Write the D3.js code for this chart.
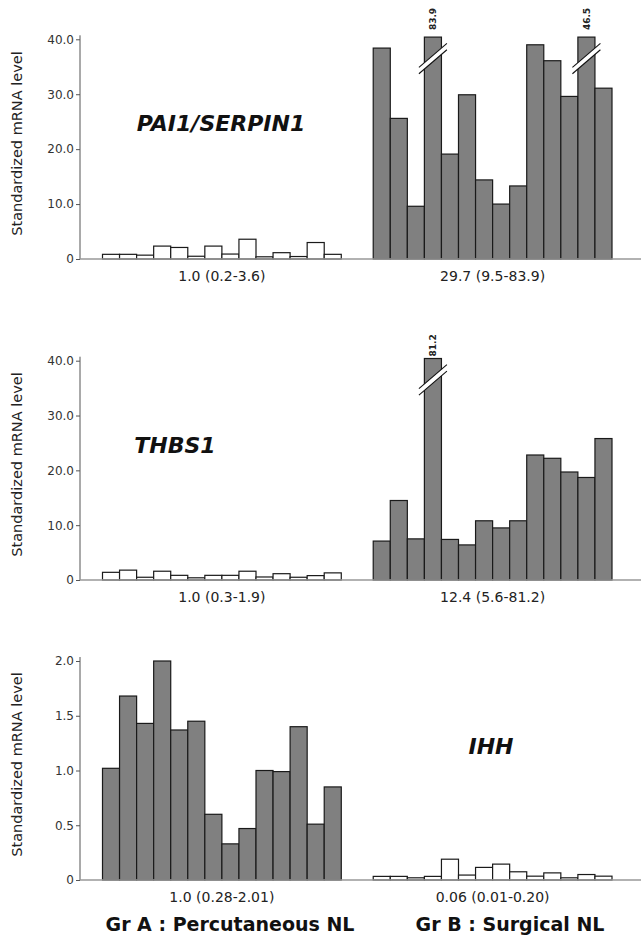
<!DOCTYPE html>
<html>
<head>
<meta charset="utf-8">
<script src="https://cdn.jsdelivr.net/npm/d3@7"></script>
<style>
  body { margin: 0; background: #fff; }
  .tick text { font-family: "DejaVu Sans", sans-serif; font-size: 12px; fill: #333; }
</style>
</head>
<body>
<div id="chart"></div>
<script>
// canvas
var width = 641, height = 941;

// samples per group and group keys
var samples = d3.range(1, 15);
var groups = ["A", "B"];
var groupTitles = ["Gr A : Percutaneous NL", "Gr B : Surgical NL"];

// PAI1/SERPIN1 values
var paiA = [0.85, 0.85, 0.7, 2.35, 2.1, 0.5, 2.35, 0.9, 3.6, 0.4, 1.15, 0.45, 3.0, 0.85];
var paiB = [38.4, 25.6, 9.6, 83.9, 19.1, 29.9, 14.4, 10.0, 13.3, 39.0, 36.1, 29.6, 46.5, 31.1];
var paiStats = ["1.0 (0.2-3.6)", "29.7 (9.5-83.9)"];

// THBS1 values
var thbsA = [1.4, 1.8, 0.5, 1.6, 0.85, 0.4, 0.85, 0.85, 1.6, 0.55, 1.15, 0.5, 0.8, 1.3];
var thbsB = [7.1, 14.5, 7.5, 81.2, 7.4, 6.4, 10.8, 9.5, 10.8, 22.8, 22.2, 19.7, 18.7, 25.8];
var thbsStats = ["1.0 (0.3-1.9)", "12.4 (5.6-81.2)"];

// IHH values
var ihhA = [1.02, 1.68, 1.43, 2.0, 1.37, 1.45, 0.60, 0.33, 0.47, 1.0, 0.99, 1.40, 0.51, 0.85];
var ihhB = [0.033, 0.033, 0.02, 0.033, 0.19, 0.045, 0.115, 0.145, 0.075, 0.035, 0.065, 0.02, 0.05, 0.035];
var ihhStats = ["1.0 (0.28-2.01)", "0.06 (0.01-0.20)"];

// tick values
var ticks40 = [0, 10, 20, 30, 40];
var ticks2 = [0, 0.5, 1, 1.5, 2];

// layout of the three panels
var panels = [
  {gene: "PAI1/SERPIN1", a: paiA, b: paiB, stats: paiStats, ticks: ticks40, max: 40,
   y0: 259, yTop: 39.3, white: "A", geneX: 221, geneY: 131, labelGap: 7},
  {gene: "THBS1", a: thbsA, b: thbsB, stats: thbsStats, ticks: ticks40, max: 40,
   y0: 580, yTop: 360.7, white: "A", geneX: 175, geneY: 453, labelGap: 2},
  {gene: "IHH", a: ihhA, b: ihhB, stats: ihhStats, ticks: ticks2, max: 2,
   y0: 880, yTop: 661, white: "B", geneX: 491, geneY: 754, labelGap: 4}
];

var axisX = 80;

var svg = d3.select("#chart")
  .append("svg")
    .attr("width", width)
    .attr("height", height);

var xGroup = d3.scaleBand()
  .domain(groups)
  .range([102.5, 612])
  .paddingInner(0.118);

var xBar = d3.scaleBand()
  .domain(samples)
  .range([0, xGroup.bandwidth()]);

var fmt = function(d) { return d === 0 ? "0" : d3.format(".1f")(d); };

panels.forEach(function(p) {
  var cap = p.max * 1.01;
  var y = d3.scaleLinear()
    .domain([0, p.max])
    .range([p.y0, p.yTop]);

  var g = svg.append("g");

  // y axis
  var yAxis = g.append("g")
    .attr("transform", "translate(" + axisX + ",0)")
    .call(d3.axisLeft(y).tickValues(p.ticks).tickSize(4).tickSizeOuter(0).tickPadding(2).tickFormat(fmt));
  yAxis.select(".domain").remove();
  yAxis.selectAll(".tick line").attr("stroke", "#555");
  g.append("line")
    .attr("x1", axisX).attr("x2", axisX)
    .attr("y1", p.yTop - 4).attr("y2", p.y0)
    .attr("stroke", "#555")
    .attr("stroke-width", 1);

  // y title
  g.append("text")
    .attr("transform", "translate(17," + (p.y0 - 115.5) + ") rotate(-90)")
    .attr("text-anchor", "middle")
    .attr("dy", "0.35em")
    .style("font-family", "DejaVu Sans, sans-serif")
    .style("font-size", "14.5px")
    .style("fill", "#222")
    .text("Standardized mRNA level");

  // bars
  groups.forEach(function(grp, gi) {
    var vals = gi === 0 ? p.a : p.b;
    var fill = grp === p.white ? "#fff" : "#808080";
    g.selectAll(".bar" + grp)
      .data(vals)
      .enter()
      .append("rect")
        .attr("class", "bar" + grp)
        .attr("x", function(d, i) { return xGroup(grp) + xBar(samples[i]); })
        .attr("width", xBar.bandwidth())
        .attr("y", function(d) { return y(Math.min(d, cap)); })
        .attr("height", function(d) { return p.y0 - y(Math.min(d, cap)); })
        .attr("fill", fill)
        .attr("stroke", "#1a1a1a")
        .attr("stroke-width", 1.2);

    // broken bars
    var broken = vals.map(function(d, i) { return {v: d, i: i}; })
      .filter(function(d) { return d.v > cap; });
    broken.forEach(function(d) {
      var cx = xGroup(grp) + xBar(samples[d.i]) + xBar.bandwidth() / 2;
      var cy = y(p.max * 0.9125);
      var dx = 14, dy = 12, off = 3.2;
      g.append("path")
        .attr("d", "M" + (cx - dx) + "," + (cy + dy - off) + "L" + (cx + dx) + "," + (cy - dy - off) +
                   "L" + (cx + dx) + "," + (cy - dy + off) + "L" + (cx - dx) + "," + (cy + dy + off) + "Z")
        .attr("fill", "#fff");
      [-off, off].forEach(function(o) {
        g.append("line")
          .attr("x1", cx - dx).attr("y1", cy + dy + o)
          .attr("x2", cx + dx).attr("y2", cy - dy + o)
          .attr("stroke", "#111")
          .attr("stroke-width", 1.1);
      });
      g.append("text")
        .attr("transform", "translate(" + cx + "," + (y(cap) - p.labelGap) + ") rotate(-90)")
        .attr("dy", "0.35em")
        .style("font-family", "DejaVu Sans, sans-serif")
        .style("font-size", "9px")
        .style("font-weight", "bold")
        .style("fill", "#222")
        .text(d3.format(".1f")(d.v));
    });

    // group summary
    g.append("text")
      .attr("x", xGroup(grp) + xGroup.bandwidth() / 2)
      .attr("y", p.y0 + 21.5)
      .attr("text-anchor", "middle")
      .style("font-family", "DejaVu Sans, sans-serif")
      .style("font-size", "14px")
      .style("fill", "#222")
      .text(p.stats[gi]);
  });

  // baseline
  g.append("line")
    .attr("x1", axisX).attr("x2", width)
    .attr("y1", p.y0).attr("y2", p.y0)
    .attr("stroke", "#999")
    .attr("stroke-width", 1.5);

  // gene name
  g.append("text")
    .attr("x", p.geneX)
    .attr("y", p.geneY)
    .attr("text-anchor", "middle")
    .style("font-family", "'Comic Sans MS', 'DejaVu Sans', sans-serif")
    .style("font-size", "22px")
    .style("font-weight", "bold")
    .style("font-style", "italic")
    .style("fill", "#111")
    .text(p.gene);
});

// group titles at the bottom
svg.selectAll(".groupTitle")
  .data(groupTitles)
  .enter()
  .append("text")
    .attr("class", "groupTitle")
    .attr("x", function(d, i) { return [230, 510][i]; })
    .attr("y", 931)
    .attr("text-anchor", "middle")
    .style("font-family", "'Comic Sans MS', 'DejaVu Sans', sans-serif")
    .style("font-size", "19px")
    .style("font-weight", "bold")
    .style("fill", "#111")
    .text(function(d) { return d; });
</script>
</body>
</html>
